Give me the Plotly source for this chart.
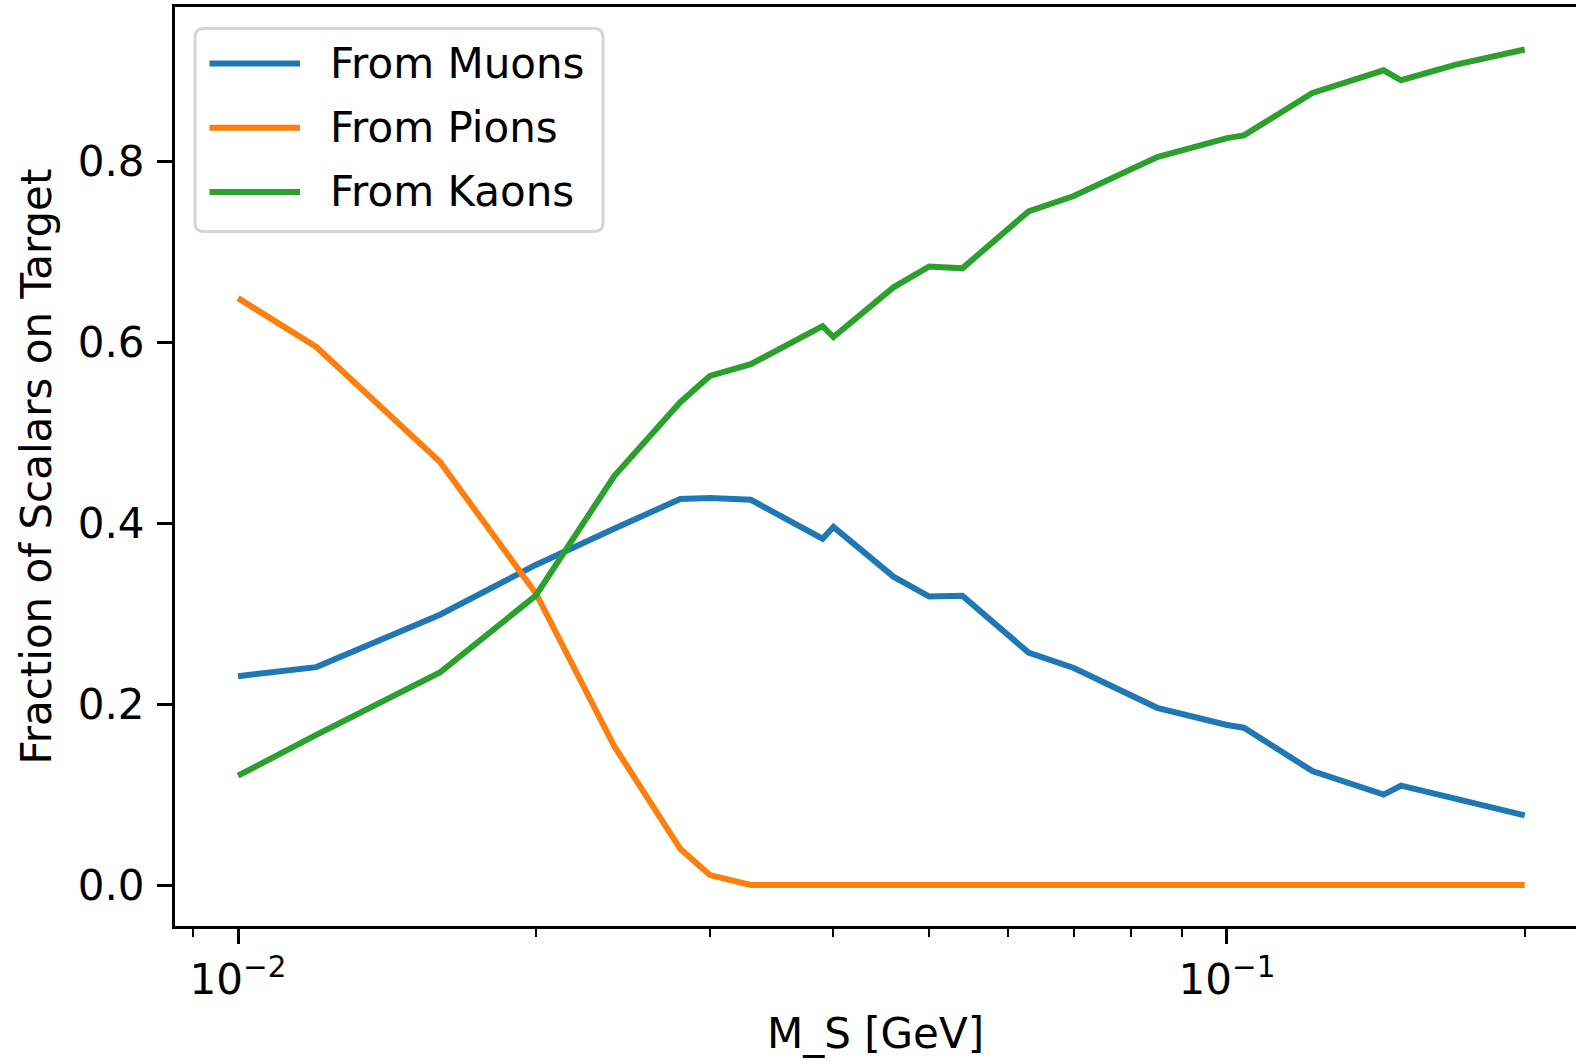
import plotly.graph_objects as go

# ---------------- data ----------------
mass_gev = [0.010, 0.012, 0.016, 0.020, 0.024, 0.028, 0.030, 0.033, 0.039, 0.040,
            0.046, 0.050, 0.054, 0.063, 0.070, 0.085, 0.100, 0.104, 0.122, 0.144,
            0.150, 0.170, 0.200]
from_muons = [0.231, 0.241, 0.299, 0.354, 0.394, 0.427, 0.428, 0.426, 0.383, 0.396,
              0.341, 0.319, 0.320, 0.257, 0.240, 0.196, 0.177, 0.174, 0.126, 0.100,
              0.110, 0.095, 0.077]
from_pions = [0.649, 0.595, 0.468, 0.323, 0.154, 0.040, 0.011, 0.0, 0.0, 0.0,
              0.0, 0.0, 0.0, 0.0, 0.0, 0.0, 0.0, 0.0, 0.0, 0.0,
              0.0, 0.0, 0.0]
from_kaons = [0.121, 0.166, 0.235, 0.320, 0.452, 0.534, 0.563, 0.576, 0.618, 0.606,
              0.661, 0.684, 0.682, 0.745, 0.762, 0.805, 0.826, 0.829, 0.876, 0.901,
              0.890, 0.907, 0.924]

series_names = ["From Muons", "From Pions", "From Kaons"]
series_colors = ["#1f77b4", "#ff7f0e", "#2ca02c"]

x_major_ticks = [0.01, 0.1]
x_major_labels = ["10<sup>\u22122</sup>", "10<sup>\u22121</sup>"]
x_minor_ticks = [0.009, 0.02, 0.03, 0.04, 0.05, 0.06, 0.07, 0.08, 0.09, 0.2]
y_ticks = [0.0, 0.2, 0.4, 0.6, 0.8]
y_labels = ["0.0", "0.2", "0.4", "0.6", "0.8"]

# ---------------- figure ----------------
W, H = 1576, 1061
L, R, T, B = 175, 1576, 7, 926
FONT = "DejaVu Sans"
FS = 42

fig = go.Figure()
for name, ys, col in zip(series_names, [from_muons, from_pions, from_kaons], series_colors):
    fig.add_trace(go.Scatter(x=mass_gev, y=ys, mode="lines", name=name,
                             line=dict(color=col, width=6), showlegend=False))


def pu(px):
    return (px - L) / (R - L)


def pv(py):
    return (B - py) / (B - T)


# manual legend (matplotlib-like, long line samples)
lx0, lx1, ly0, ly1, rr = 195, 603, 28.5, 231.5, 9


def P(x, y):
    return f"{pu(x):.5f},{pv(y):.5f}"


path = (f"M {P(lx0 + rr, ly0)} L {P(lx1 - rr, ly0)} Q {P(lx1, ly0)} {P(lx1, ly0 + rr)} "
        f"L {P(lx1, ly1 - rr)} Q {P(lx1, ly1)} {P(lx1 - rr, ly1)} "
        f"L {P(lx0 + rr, ly1)} Q {P(lx0, ly1)} {P(lx0, ly1 - rr)} "
        f"L {P(lx0, ly0 + rr)} Q {P(lx0, ly0)} {P(lx0 + rr, ly0)} Z")
shapes = [dict(type="path", xref="paper", yref="paper", path=path,
               fillcolor="rgba(255,255,255,0.8)", line=dict(color="#d6d6d6", width=3),
               layer="above")]
annotations = []
for i, (name, col) in enumerate(zip(series_names, series_colors)):
    yy = 63.5 + 64.2 * i
    shapes.append(dict(type="line", xref="paper", yref="paper",
                       x0=pu(209.5), x1=pu(300), y0=pv(yy), y1=pv(yy),
                       line=dict(color=col, width=6), layer="above"))
    annotations.append(dict(xref="paper", yref="paper", x=pu(328), y=pv(yy),
                            xanchor="left", yanchor="middle", text=name, showarrow=False,
                            font=dict(family=FONT, size=FS, color="black")))

fig.update_layout(
    width=W, height=H,
    margin=dict(l=L, r=W - R, t=T, b=H - B, pad=0),
    paper_bgcolor="white", plot_bgcolor="white",
    font=dict(family=FONT, size=FS, color="black"),
    shapes=shapes, annotations=annotations,
    xaxis=dict(
        type="log", range=[-2.0637, -0.6471],
        showline=True, linecolor="black", linewidth=3, mirror=True,
        ticks="outside", ticklen=15, tickwidth=3, tickcolor="black",
        tickvals=x_major_ticks, ticktext=x_major_labels,
        tickfont=dict(family=FONT, size=FS, color="black"),
        showgrid=False, zeroline=False,
        minor=dict(ticks="outside", ticklen=8, tickwidth=2.4, tickcolor="black",
                   tickvals=x_minor_ticks, showgrid=False),
        title=dict(text="M_S [GeV]", font=dict(family=FONT, size=FS, color="black"),
                   standoff=16),
    ),
    yaxis=dict(
        range=[-0.0453, 0.971],
        showline=True, linecolor="black", linewidth=3, mirror=False,
        ticks="outside", ticklen=15, tickwidth=3, tickcolor="black",
        tickvals=y_ticks, ticktext=y_labels, ticklabelstandoff=4,
        tickfont=dict(family=FONT, size=FS, color="black"),
        showgrid=False, zeroline=False,
        title=dict(text="Fraction of Scalars on Target",
                   font=dict(family=FONT, size=FS, color="black"), standoff=14),
    ),
)

fig.write_html("out.html")
